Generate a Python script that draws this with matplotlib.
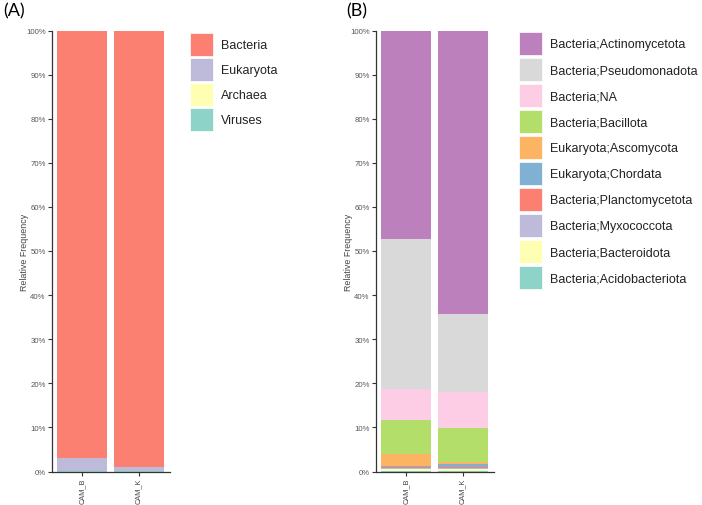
import matplotlib
matplotlib.use('Agg')
import matplotlib.pyplot as plt
from matplotlib.patches import Rectangle
from matplotlib.ticker import PercentFormatter
import numpy as np

plt.rcParams['font.family'] = ['Liberation Sans', 'DejaVu Sans']

samples = ['CAM_B', 'CAM_K']

# panel A: kingdom level, percent, bottom to top
kingdoms = ['Viruses', 'Archaea', 'Eukaryota', 'Bacteria']
kingdom_vals = {
    'Viruses':   [0.05, 0.05],
    'Archaea':   [0.05, 0.05],
    'Eukaryota': [2.9, 1.0],
    'Bacteria':  [97.0, 98.9],
}
kingdom_colors = {
    'Bacteria': '#FB8072', 'Eukaryota': '#BEBADA',
    'Archaea': '#FFFFB3', 'Viruses': '#8DD3C7',
}

# panel B: phylum level, percent, bottom to top
phyla = ['Bacteria;Acidobacteriota', 'Bacteria;Bacteroidota', 'Bacteria;Myxococcota',
         'Bacteria;Planctomycetota', 'Eukaryota;Chordata', 'Eukaryota;Ascomycota',
         'Bacteria;Bacillota', 'Bacteria;NA', 'Bacteria;Pseudomonadota',
         'Bacteria;Actinomycetota']
phylum_vals = {
    'Bacteria;Acidobacteriota': [0.2, 0.2],
    'Bacteria;Bacteroidota':    [0.3, 0.3],
    'Bacteria;Myxococcota':     [0.3, 0.3],
    'Bacteria;Planctomycetota': [0.2, 0.3],
    'Eukaryota;Chordata':       [0.3, 0.5],
    'Eukaryota;Ascomycota':     [2.7, 0.6],
    'Bacteria;Bacillota':       [7.7, 7.6],
    'Bacteria;NA':              [6.9, 8.2],
    'Bacteria;Pseudomonadota':  [34.1, 17.7],
    'Bacteria;Actinomycetota':  [47.3, 64.3],
}
phylum_colors = {
    'Bacteria;Actinomycetota': '#BC80BD', 'Bacteria;Pseudomonadota': '#D9D9D9',
    'Bacteria;NA': '#FCCDE5', 'Bacteria;Bacillota': '#B3DE69',
    'Eukaryota;Ascomycota': '#FDB462', 'Eukaryota;Chordata': '#80B1D3',
    'Bacteria;Planctomycetota': '#FB8072', 'Bacteria;Myxococcota': '#BEBADA',
    'Bacteria;Bacteroidota': '#FFFFB3', 'Bacteria;Acidobacteriota': '#8DD3C7',
}

yticks = np.arange(0, 101, 10)

W, H = 702, 506
fig = plt.figure(figsize=(W / 100, H / 100), dpi=100)
axA = fig.add_axes([52 / W, 1 - 472.5 / H, 118 / W, 441 / H])
axB = fig.add_axes([376 / W, 1 - 472.5 / H, 118 / W, 441 / H])


def stacked(ax, order, vals, colors):
    x = np.arange(len(samples))
    bottom = np.zeros(len(samples))
    for name in order:
        v = np.array(vals[name])
        ax.bar(x, v, 0.89, bottom=bottom, color=colors[name], edgecolor='none')
        bottom += v
    ax.set_xlim(-0.54, 1.56)
    ax.set_ylim(0, 100)
    ax.set_xticks(x)
    ax.set_xticklabels(samples, rotation=90, fontsize=5.3, color='#444444')
    ax.set_yticks(yticks)
    ax.yaxis.set_major_formatter(PercentFormatter(decimals=0))
    ax.tick_params(axis='y', labelsize=5.6, labelcolor='#555555', length=3,
                   width=0.8, color='#333333', pad=1.5)
    ax.tick_params(axis='x', length=3, width=0.8, color='#333333', pad=1.5)
    ax.set_ylabel('Relative Frequency', fontsize=6.4, color='#444444', va='center')
    ax.yaxis.set_label_coords(-0.23, 0.5)
    for s in ['top', 'right']:
        ax.spines[s].set_visible(False)
    for s in ['left', 'bottom']:
        ax.spines[s].set_color('#333333')
        ax.spines[s].set_linewidth(0.9)


def legend(names, colors, x0, y0, step):
    # square swatches with labels, pixel layout
    for i, name in enumerate(names):
        top = y0 + i * step
        fig.patches.append(Rectangle((x0 / W, 1 - (top + 23) / H), 23 / W, 23 / H,
                                     transform=fig.transFigure,
                                     facecolor=colors[name], edgecolor='white', lw=0.5))
        fig.text((x0 + 31) / W, 1 - (top + 12) / H, name, fontsize=9,
                 va='center', ha='left', color='#222222')


stacked(axA, kingdoms, kingdom_vals, kingdom_colors)
stacked(axB, phyla, phylum_vals, phylum_colors)

legend(kingdoms[::-1], kingdom_colors, 190, 34, 25)
legend(phyla[::-1], phylum_colors, 519, 33, 26)

fig.text(3 / W, 1 - 3 / H, '(A)', fontsize=13, va='top', family='Lato')
fig.text(346 / W, 1 - 3 / H, '(B)', fontsize=13, va='top', family='Lato')

plt.savefig('out.png', dpi=100)
